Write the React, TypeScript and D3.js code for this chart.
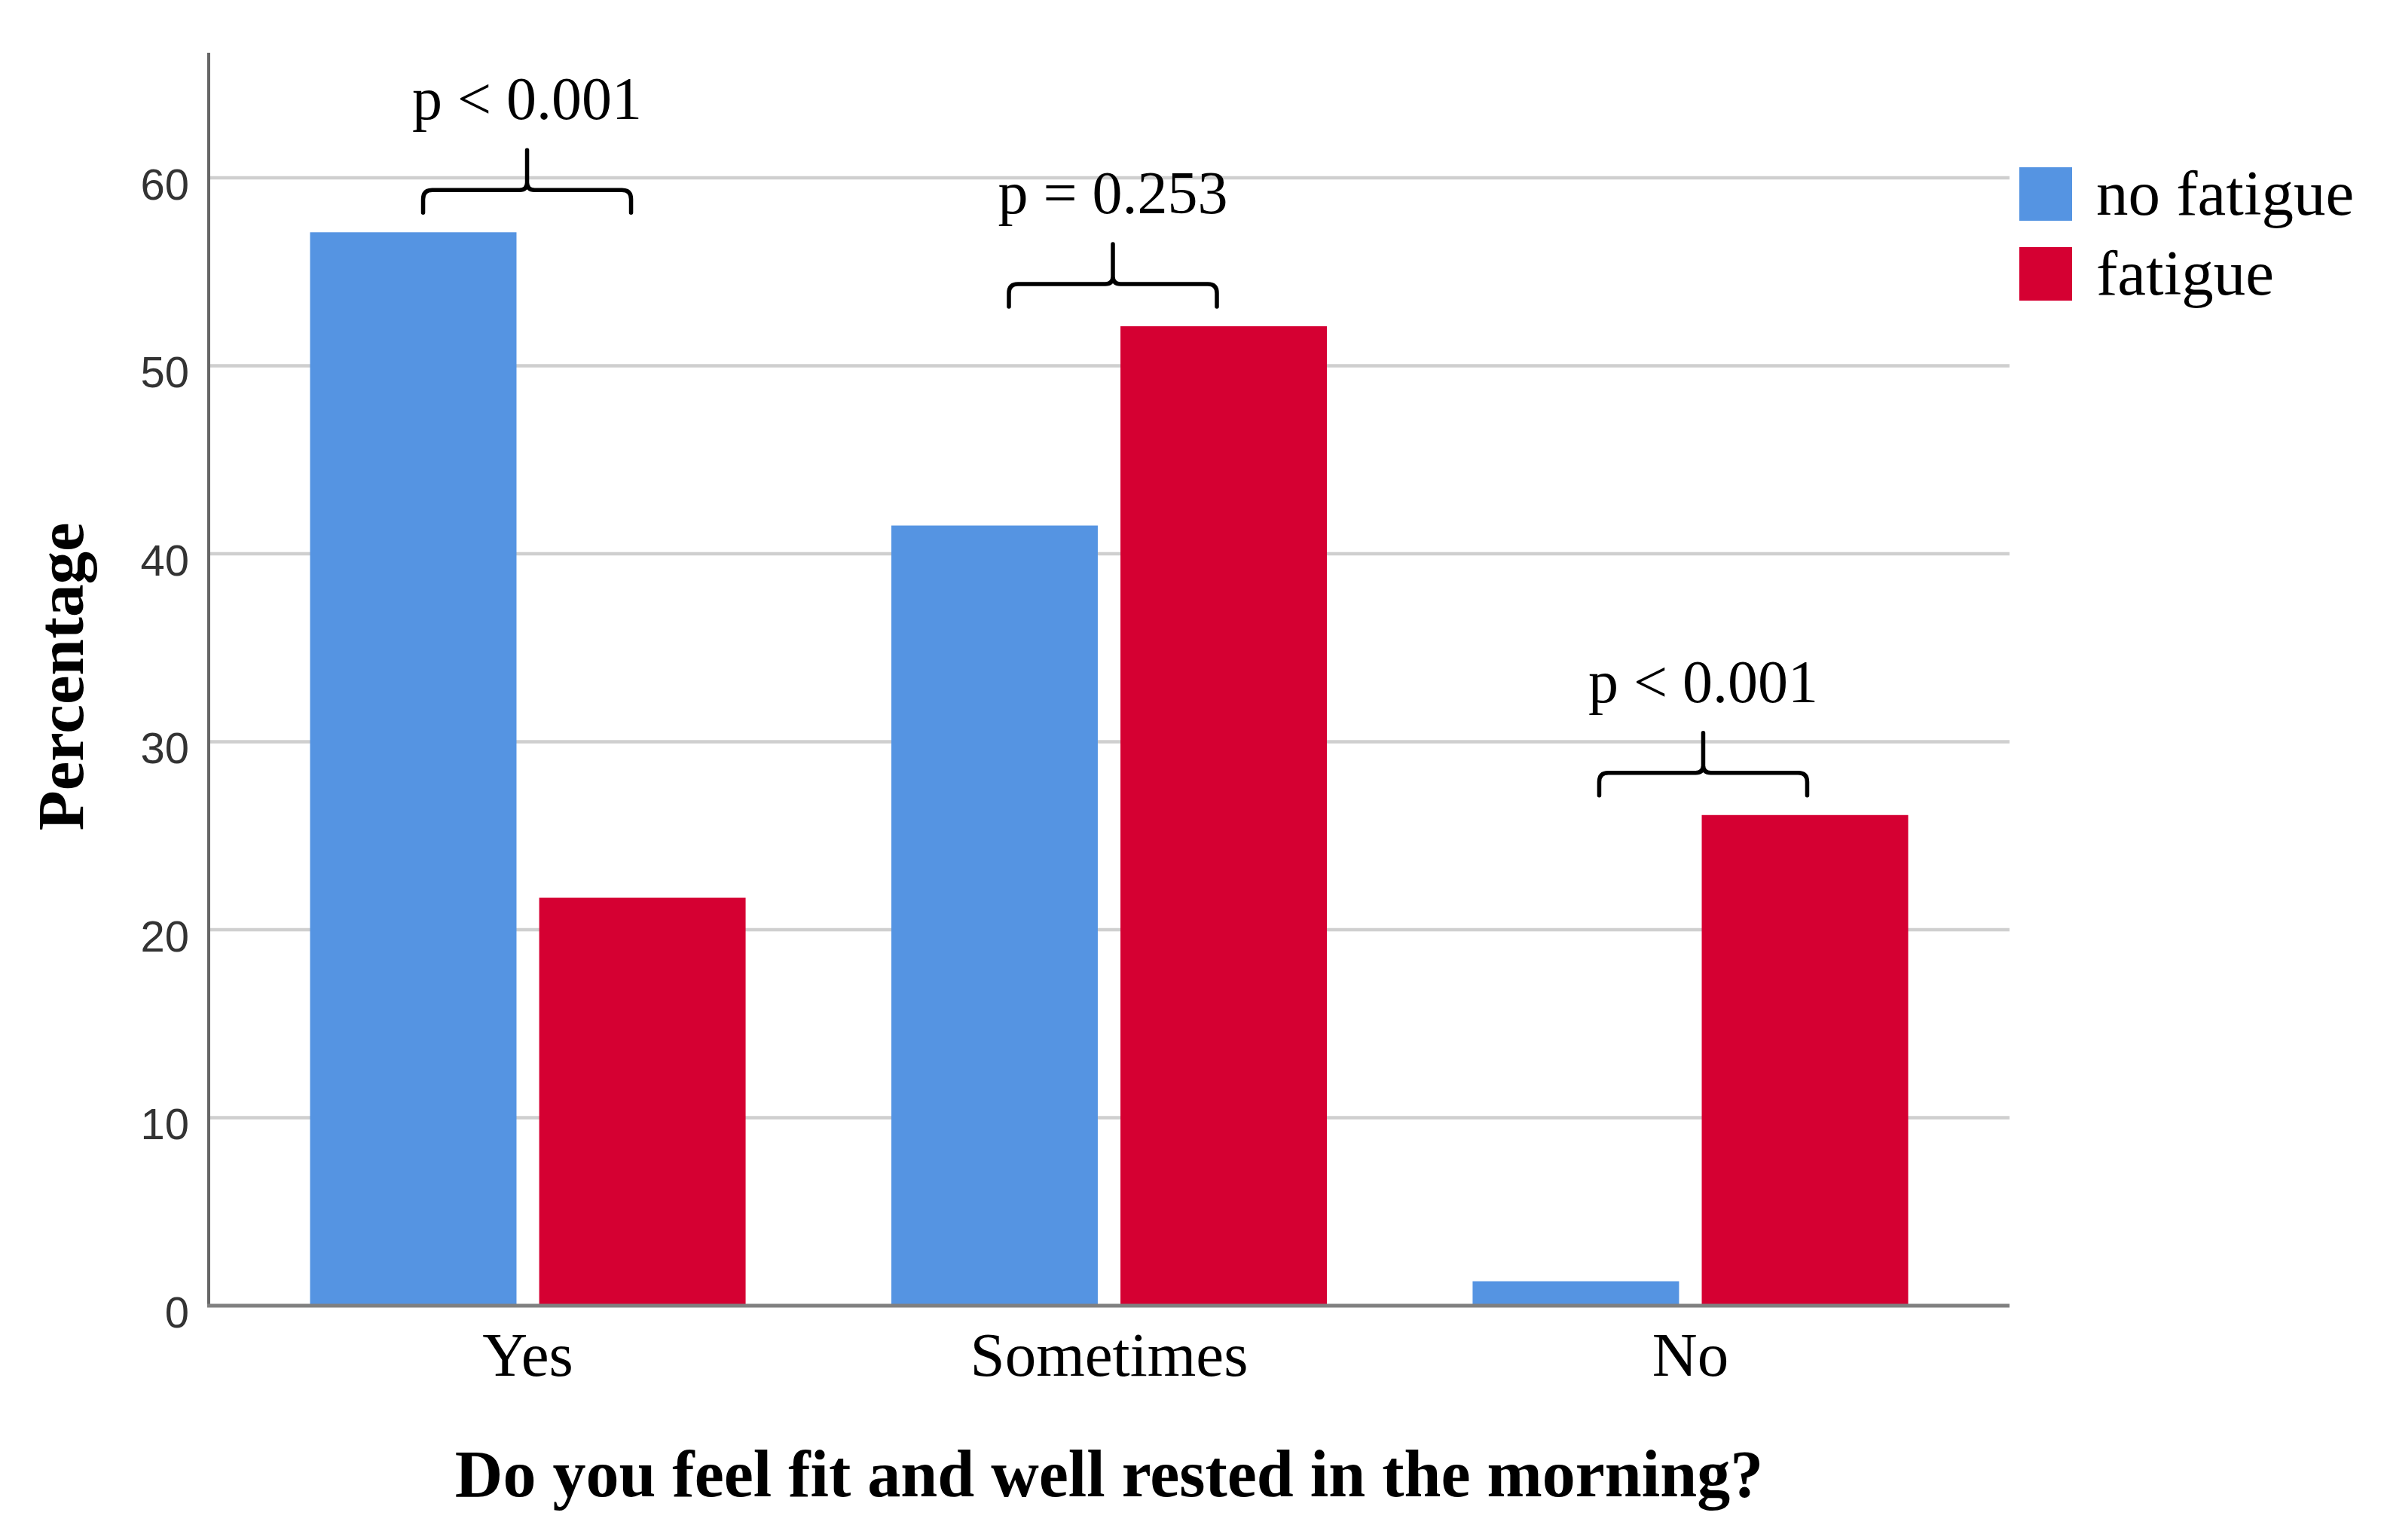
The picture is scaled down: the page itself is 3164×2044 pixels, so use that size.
import * as d3 from "d3";

const categories = ["Yes", "Sometimes", "No"];
const groups = ["no fatigue", "fatigue"];
const noFatigue = [57.1, 41.5, 1.3];
const fatigue = [21.7, 52.1, 26.1];
const pLabels = ["p < 0.001", "p = 0.253", "p < 0.001"];
const yTicks = [0, 10, 20, 30, 40, 50, 60];

const COLORS = ["#5594e2", "#d50032"];
const W = 3164;
const H = 2044;
const ML = 277;
const MR = 497;
const MT = 70;
const MB = 311;
// the hand-drawn braces sit a little right of the group centres
const BRACKET_DX = [-1, 5, 17];

const serif = "'Liberation Serif', 'Times New Roman', serif";
const sans = "'Liberation Sans Narrow', 'Liberation Sans', Arial, sans-serif";

export default function App() {
  const x = d3
    .scaleBand()
    .domain(categories)
    .range([ML, W - MR])
    .paddingInner(0)
    .paddingOuter(0.049);

  const xInner = d3
    .scaleBand()
    .domain(groups)
    .range([0, x.bandwidth()])
    .paddingInner(0.099)
    .paddingOuter(0.318);

  const y = d3.scaleLinear().domain([0, 66.65]).range([H - MB, MT]);

  const rows = categories.map((c, i) => ({
    cat: c,
    values: [noFatigue[i], fatigue[i]],
    p: pLabels[i],
    dx: BRACKET_DX[i],
  }));

  const half = 138;

  return (
    <svg
      width={W}
      height={H}
      viewBox={`0 0 ${W} ${H}`}
      style={{ position: "absolute", left: 0, top: 0, background: "#fff" }}
    >
      {/* gridlines */}
      <g stroke="#cfcfcf" strokeWidth={4.5}>
        {yTicks
          .filter((t) => t > 0)
          .map((t) => (
            <line key={t} x1={ML + 2} x2={W - MR} y1={y(t)} y2={y(t)} />
          ))}
      </g>

      {/* tick labels */}
      <g fill="#333" fontFamily={sans} fontSize={58} textAnchor="end">
        {yTicks.map((t) => (
          <text key={t} x={ML - 26} y={y(t)} dy="0.5em">
            {t}
          </text>
        ))}
      </g>

      {/* bars */}
      {rows.map((r) => (
        <g key={r.cat} transform={`translate(${x(r.cat)},0)`}>
          {r.values.map((v, j) => (
            <rect
              key={groups[j]}
              x={xInner(groups[j])}
              y={y(v)}
              width={xInner.bandwidth()}
              height={y(0) - y(v)}
              fill={COLORS[j]}
            />
          ))}
        </g>
      ))}

      {/* axes */}
      <line x1={ML} x2={ML} y1={MT} y2={y(0)} stroke="#666" strokeWidth={4} />
      <line
        x1={ML - 2}
        x2={W - MR}
        y1={y(0)}
        y2={y(0)}
        stroke="#808080"
        strokeWidth={5}
      />

      {/* category labels */}
      <g fontFamily={serif} fontSize={83} textAnchor="middle" fill="#000">
        {categories.map((c) => (
          <text key={c} x={(x(c) ?? 0) + x.bandwidth() / 2} y={1826}>
            {c}
          </text>
        ))}
      </g>

      {/* brackets + p values */}
      {rows.map((r) => {
        const cx = (x(r.cat) ?? 0) + x.bandwidth() / 2 + r.dx;
        const top = y(d3.max(r.values) ?? 0);
        const yEnd = top - 26;
        const yH = yEnd - 30;
        const yTick = yH - 53;
        const x0 = cx - half;
        const x1 = cx + half;
        const d = [
          `M${x0},${yEnd}`,
          `L${x0},${yH + 12}`,
          `Q${x0},${yH} ${x0 + 12},${yH}`,
          `L${cx - 10},${yH}`,
          `Q${cx},${yH} ${cx},${yH - 10}`,
          `L${cx},${yTick}`,
          `M${cx},${yH - 10}`,
          `Q${cx},${yH} ${cx + 10},${yH}`,
          `L${x1 - 12},${yH}`,
          `Q${x1},${yH} ${x1},${yH + 12}`,
          `L${x1},${yEnd}`,
        ].join(" ");
        return (
          <g key={r.cat}>
            <path
              d={d}
              fill="none"
              stroke="#000"
              strokeWidth={5.5}
              strokeLinecap="round"
            />
            <text
              x={cx}
              y={yTick - 41}
              textAnchor="middle"
              fontFamily={serif}
              fontSize={80}
              fill="#000"
            >
              {r.p}
            </text>
          </g>
        );
      })}

      {/* y title */}
      <text
        transform="translate(110,898) rotate(-90)"
        textAnchor="middle"
        fontFamily={serif}
        fontWeight="bold"
        fontSize={87}
        fill="#000"
      >
        Percentage
      </text>

      {/* x title */}
      <text
        x={(ML + W - MR) / 2}
        y={1986}
        textAnchor="middle"
        fontFamily={serif}
        fontWeight="bold"
        fontSize={88}
        fill="#000"
      >
        Do you feel fit and well rested in the morning?
      </text>

      {/* legend */}
      <g fontFamily={serif} fontSize={85} fill="#000">
        {groups.map((g, i) => (
          <g key={g} transform={`translate(2680,${222 + i * 106})`}>
            <rect width={70} height={71} fill={COLORS[i]} />
            <text x={102} y={63}>
              {g}
            </text>
          </g>
        ))}
      </g>
    </svg>
  );
}
